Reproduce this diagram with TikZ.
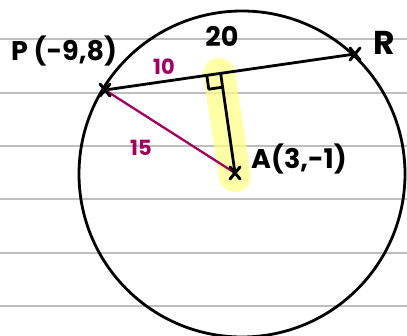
\documentclass[tikz,border=0pt]{standalone}
\usepackage{fontspec}
\setmainfont{Poppins}
\usetikzlibrary{calc}
\definecolor{ruled}{RGB}{190,190,190}
\definecolor{plum}{RGB}{160,0,95}
\definecolor{hilite}{RGB}{255,255,130}
\tikzset{
  ink/.style={line width=2.8pt, black, line cap=round, line join=round},
  pinkline/.style={line width=2.3pt, plum, line cap=round},
  ruledline/.style={line width=1.6pt, ruled},
  hand/.style={font=\bfseries\fontsize{27}{27}\selectfont, inner sep=0pt},
  handpink/.style={hand, text=plum, font=\bfseries\fontsize{21}{21}\selectfont},
  crossmark/.style={line width=3pt, black, line cap=round}
}
\begin{document}
\begin{tikzpicture}[x=1pt,y=-1pt]
\useasboundingbox (0,0) rectangle (407,336);
\fill[white] (0,0) rectangle (407,336);
% ruled paper lines
\foreach \yy [count=\i] in {39,93,146,199,253,306} {
  \coordinate (l\i a) at (0,\yy);
  \coordinate (l\i b) at (407,\yy);
  \draw[ruledline] (l\i a) -- (l\i b);
}
% points
\coordinate (P) at (105,90);
\coordinate (R) at (355,54);
\coordinate (A) at (235,173);
\coordinate (F) at ($(P)!(A)!(R)$);
\coordinate (O) at (242,174);
% highlight
\coordinate (h1) at (219,74);
\coordinate (h2) at (235,176);
\draw[hilite, opacity=0.7, line width=32pt, line cap=round] (h1) -- (h2);
% circle
\begin{scope}
\clip (0,0) rectangle (407,336);
\draw[ink] (O) circle[radius=163pt];
\end{scope}
% chord and perpendicular
\draw[ink] (P) -- (R);
\draw[ink] (F) -- (A);
% right angle mark
\coordinate (s1) at ($(F)!14pt!(P)$);
\coordinate (s3) at ($(F)!14pt!(A)$);
\coordinate (s2) at ($(s1)+(s3)-(F)$);
\draw[ink] (s1) -- (s2) -- (s3);
% radius PA
\draw[pinkline] (P) -- (A);
% crosses
\foreach \c in {P,R,A} {
  \coordinate (\c1) at ($(\c)+(-5,-6)$);
  \coordinate (\c2) at ($(\c)+(5,6)$);
  \coordinate (\c3) at ($(\c)+(-5,6)$);
  \coordinate (\c4) at ($(\c)+(5,-6)$);
  \draw[crossmark] (\c1) -- (\c2);
  \draw[crossmark] (\c3) -- (\c4);
}
% labels
\node[hand] (lp) at (64,51) {P (-9,8)};
\node[hand] (l20) at (222,36) {20};
\node[hand, font=\bfseries\fontsize{33}{33}\selectfont] (lr) at (384,43) {R};
\node[hand] (la) at (299,159) {A(3,-1)};
\node[handpink] (l10) at (164,67) {10};
\node[handpink] (l15) at (141,148) {15};
\end{tikzpicture}
\end{document}
